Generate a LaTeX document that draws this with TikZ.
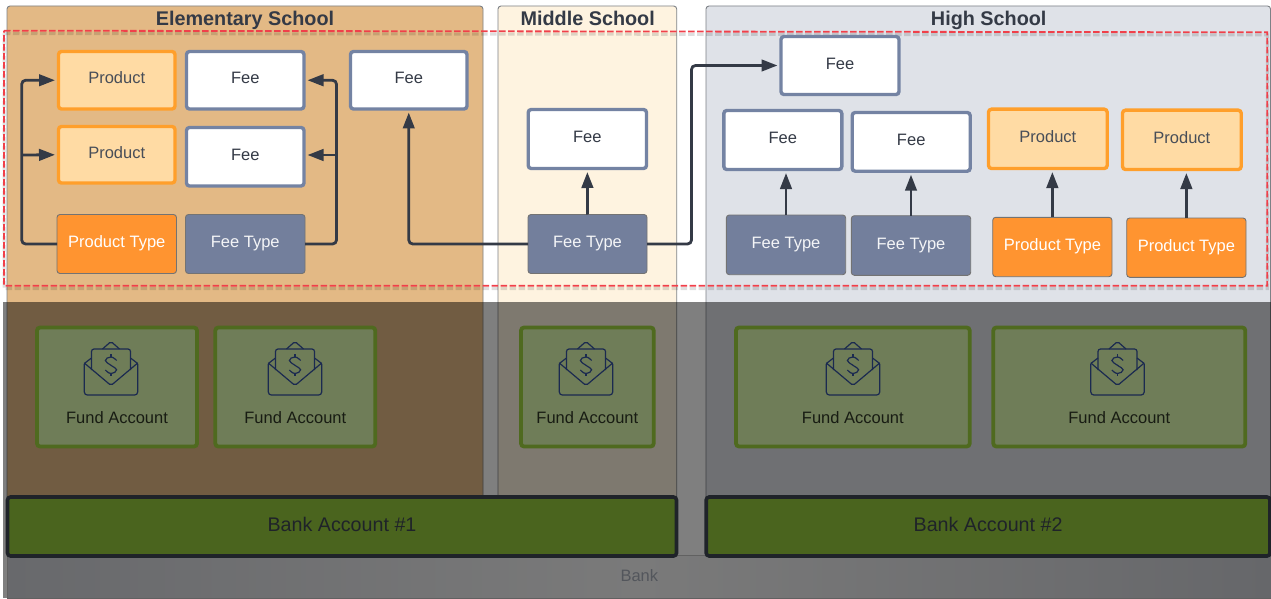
\documentclass[tikz,border=0pt]{standalone}
\usepackage{fontspec}
\setmainfont{Liberation Sans}
\usetikzlibrary{arrows.meta,calc}
\definecolor{ink}{HTML}{343A46}
\definecolor{tanz}{HTML}{E3B985}
\definecolor{creamz}{HTML}{FEF3E0}
\definecolor{greyz}{HTML}{DFE2E8}
\definecolor{zoneline}{HTML}{7D8186}
\definecolor{orng}{HTML}{FF9430}
\definecolor{prodfill}{HTML}{FFDBA4}
\definecolor{slate}{HTML}{737F9C}
\definecolor{slateline}{HTML}{7483A3}
\definecolor{redd}{HTML}{F0404A}
\definecolor{fundfill}{HTML}{6F7D58}
\definecolor{fundline}{HTML}{4F6A1F}
\definecolor{bankfill}{HTML}{4A641E}
\definecolor{bankline}{HTML}{1F2329}
\definecolor{navy}{HTML}{1B2A50}
\definecolor{bankleft}{HTML}{68696C}
\definecolor{bankmid}{HTML}{7A7A7A}
\definecolor{bankright}{HTML}{66676A}
\definecolor{banktext}{HTML}{53565C}
\newcommand\placebox[7]{%
  \pgfmathsetmacro\bxw{#5-#3}\pgfmathsetmacro\bxh{#6-#4}%
  \node[#1,minimum width=\bxw pt,minimum height=\bxh pt] (#2) at ({(#3+#5)/2},{(#4+#6)/2}) {#7};}
\tikzset{
  base/.style={rectangle,inner sep=0pt,outer sep=0pt,rounded corners=3pt},
  label16/.style={font=\fontsize{16.5}{18}\selectfont,text height=11.5pt,text depth=4pt},
  zonebox/.style={base,draw=zoneline,line width=0.9pt,fill=#1},
  zonetitle/.style={font=\fontsize{19.8}{22}\selectfont\bfseries,text=ink,inner sep=0pt,text height=15pt,text depth=3.5pt},
  feebox/.style={base,label16,draw=slateline,line width=3.4pt,fill=white,text=ink},
  prodbox/.style={base,label16,draw=orng!90!yellow,line width=3.4pt,fill=prodfill,text=ink!90!white},
  ptype/.style={base,label16,draw=black!55,line width=0.9pt,fill=orng,text=white},
  ftype/.style={base,label16,draw=black!55,line width=0.9pt,fill=slate,text=white!92!slate},
  fundbox/.style={base,draw=fundline,line width=3.8pt,fill=fundfill},
  fundtext/.style={font=\fontsize{16.5}{18}\selectfont,text=black!78!fundfill,inner sep=0pt},
  bankbox/.style={base,draw=bankline,line width=3.6pt,fill=bankfill,font=\fontsize{19.7}{22}\selectfont,text=bankline,text height=14pt,text depth=4.5pt},
  conn/.style={draw=ink,line width=2.8pt,rounded corners=4pt,-{Triangle[length=16pt,width=11.5pt]},shorten >=3.5pt},
  envelope/.pic={
    \draw[navy,line width=1.2pt,rounded corners=3pt]
      (-26.7,-1) -- (-26.7,30) -- (26.7,30) -- (26.7,-1);
    \draw[navy,line width=1.2pt,rounded corners=2pt]
      (-26.7,-2) -- (0,20.5) -- (26.7,-2);
    \draw[navy,line width=1.2pt,rounded corners=2.5pt]
      (-19.5,5) -- (-19.5,-16) -- (19.5,-16) -- (19.5,5);
    \draw[navy,line width=1.2pt,rounded corners=2pt]
      (-8.5,-16) -- (0,-23.5) -- (8.5,-16);
    \draw[navy,line width=1.2pt,rounded corners=1.5pt]
      (-19.5,-7) -- (-26.7,-1.5);
    \draw[navy,line width=1.2pt,rounded corners=1.5pt]
      (19.5,-7) -- (26.7,-1.5);
    \draw[navy,line width=1.2pt] plot[smooth,tension=.85] coordinates
      {(5.6,-4.5) (0,-8) (-5.6,-4.5) (0,0.3) (5.6,4.8) (0,8.5) (-5.6,5)};
    \draw[navy,line width=1.2pt] (0,-8) -- (0,-10.8) (0,8.5) -- (0,11.3);
  }
}
\begin{document}
\begin{tikzpicture}[x=1pt,y=-1pt]
\useasboundingbox (0,0) rectangle (1271,599);
\fill[white] (0,0) rectangle (1271,599);
% school zones
\placebox{zonebox=tanz}{zoneE}{7}{6}{483}{500}{}
\placebox{zonebox=creamz}{zoneM}{498}{6}{676.7}{500}{}
\placebox{zonebox=greyz}{zoneH}{706}{6}{1270.5}{500}{}
\node[zonetitle] (titleE) at (245,20) {Elementary School};
\node[zonetitle] (titleM) at (587.7,20) {Middle School};
\node[zonetitle] (titleH) at (988.7,20) {High School};
% dashed frame with its soft shadow
\draw[black,opacity=.13,line width=3pt,dash pattern=on 6.5pt off 2.5pt]
  (4,33.5) -- (1267.3,35) -- (1267.3,288.5) -- (4,288.5) -- cycle;
\draw[redd,line width=1.8pt,dash pattern=on 6.5pt off 2.5pt]
  (4,30.7) -- (1267.3,32.3) -- (1267.3,285.7) -- (4,285.7) -- cycle;
% dark overlay on the lower part
\fill[black,opacity=.5] (3,302) rectangle (1271,598);
% bank container
\node[rectangle,inner sep=0pt,outer sep=0pt,draw=black!62,line width=0.9pt,left color=bankleft,right color=bankright,middle color=bankmid,minimum width=1264pt,minimum height=43pt] (bank) at (639,576.5) {};
\node[font=\fontsize{16.5}{18}\selectfont,text=banktext,inner sep=0pt] (banklabel) at (639.3,576) {Bank};
% elementary school boxes
\placebox{prodbox}{pA}{58.5}{51.5}{175}{109}{Product}
\placebox{prodbox}{pB}{58.5}{126.5}{175}{183}{Product}
\placebox{feebox}{fA}{186.5}{51.5}{304}{109}{Fee}
\placebox{feebox}{fB}{186.5}{127.5}{304}{186}{Fee}
\placebox{feebox}{fC}{350.5}{51.5}{467}{109}{Fee}
\placebox{ptype}{ptE}{57}{214.5}{176.5}{273.5}{Product Type}
\placebox{ftype}{ftE}{185.5}{214.5}{305}{273.5}{Fee Type}
% middle school boxes
\placebox{feebox}{fM}{528.2}{109.5}{646.5}{168.5}{Fee}
\placebox{ftype}{ftM}{528}{214.5}{647}{273.5}{Fee Type}
% high school boxes
\placebox{feebox}{fT}{781}{36.5}{899}{94.5}{Fee}
\placebox{feebox}{fH}{723.8}{110.5}{841.8}{169.5}{Fee}
\placebox{feebox}{fI}{852.2}{112.5}{970.2}{171.2}{Fee}
\placebox{prodbox}{pH}{988.5}{109.2}{1107.2}{168.5}{Product}
\placebox{prodbox}{pI}{1122.5}{110.2}{1241.2}{169.5}{Product}
\placebox{ftype}{ftH}{726.3}{215}{845.7}{274.7}{Fee Type}
\placebox{ftype}{ftI}{851.3}{215.7}{970.7}{275.3}{Fee Type}
\placebox{ptype}{ptH}{992.7}{217.3}{1112}{276.7}{Product Type}
\placebox{ptype}{ptI}{1126.7}{218}{1246}{277.3}{Product Type}
% connector elbows
\coordinate (lbr) at (21.7,155);
\coordinate (rbr) at (336.5,155);
\coordinate (lc) at (21.7,244);
\coordinate (rc) at (336.5,244);
\coordinate (upc) at (691.5,244);
% connectors
\draw[conn] (ptE.west) -- (lc) |- (pA.west);
\draw[conn,rounded corners=0pt] (lbr) -- (pB.west);
\draw[conn] (ftE.east) -- (rc) |- (fA.east);
\draw[conn,rounded corners=0pt] (rbr) -- (fB.east |- rbr);
\draw[conn] (ftM.west) -| (fC.south);
\draw[conn] (ftM.east) -- (upc) |- (fT.west);
\draw[conn] (ftM.north) -- (fM.south);
\draw[conn] (ftH.north) -- (ftH.north |- fH.south);
\draw[conn] (ftI.north) -- (ftI.north |- fI.south);
\draw[conn] (ptH.north) -- (ptH.north |- pH.south);
\draw[conn] (ptI.north) -- (ptI.north |- pI.south);
% fund accounts
\placebox{fundbox}{fundA}{37}{327.5}{197}{446.5}{}
\placebox{fundbox}{fundB}{215.3}{327.5}{375.3}{446.5}{}
\placebox{fundbox}{fundC}{521}{327.5}{653.7}{446.5}{}
\placebox{fundbox}{fundD}{736}{327.5}{969.7}{446.5}{}
\placebox{fundbox}{fundE}{993.3}{327.5}{1245.3}{446.5}{}
\foreach \ix in {111,295,586,853,1117.5} {\pic at (\ix,365) {envelope};}
\node[fundtext] (ftxtA) at (fundA |- 0,417.5) {Fund Account};
\node[fundtext] (ftxtB) at (fundB |- 0,417.5) {Fund Account};
\node[fundtext] (ftxtC) at (fundC |- 0,417.5) {Fund Account};
\node[fundtext] (ftxtD) at (fundD |- 0,417.5) {Fund Account};
\node[fundtext] (ftxtE) at (fundE |- 0,417.5) {Fund Account};
% bank accounts
\placebox{bankbox}{bankA}{7.5}{497}{676.5}{556}{Bank Account \#1}
\placebox{bankbox}{bankB}{706.2}{497}{1270}{556}{Bank Account \#2}
\end{tikzpicture}
\end{document}
